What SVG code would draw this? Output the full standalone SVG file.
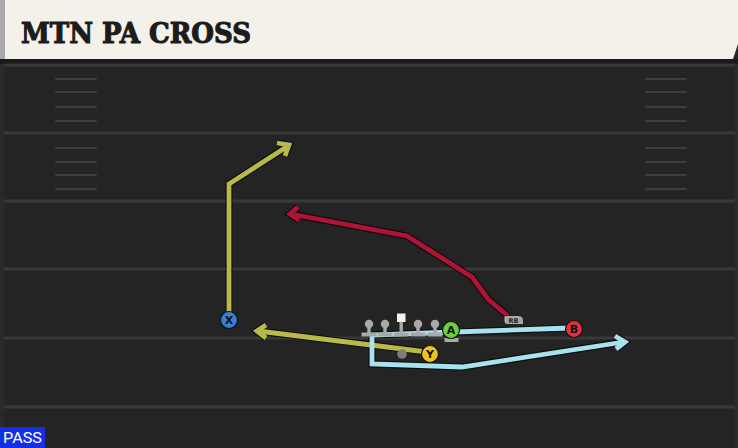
<svg xmlns="http://www.w3.org/2000/svg" width="738" height="448" viewBox="0 0 738 448">
<defs>
<style>
.yl{stroke:#393939;stroke-width:3;fill:none}
.hs{stroke:#3d3d3d;stroke-width:2;fill:none;stroke-linecap:round}
.edge{fill:none;stroke:#0d0d0d;stroke-width:7;stroke-linejoin:miter;stroke-linecap:butt}
.route{fill:none;stroke-width:4.8;stroke-linejoin:miter;stroke-linecap:butt}
.yel{stroke:#b9b84a}
.red{stroke:#ad1436}
.blu{stroke:#a6e2ef}
.ol{stroke:#111;stroke-width:1.2}
.lt{font-family:"DejaVu Sans","Liberation Sans",sans-serif;font-weight:bold;font-size:11px;fill:#111;text-anchor:middle}
.ln{fill:#a9a9a9}
</style>
</defs>
<rect x="0" y="0" width="738" height="448" fill="#242424"/>
<rect x="0" y="59" width="4" height="389" fill="#2a2a2a"/>
<rect x="735" y="59" width="3" height="389" fill="#2a2a2a"/>
<!-- header -->
<g id="header">
<rect x="0" y="0" width="6" height="59" fill="#a8a8a8"/>
<polygon points="5,0 738,0 738,44 733,59 5,59" fill="#f4f1ea"/>
<rect x="0" y="59" width="738" height="5" fill="#1a1a1a"/>
<text x="21" y="43" font-family="'DejaVu Serif','Liberation Serif',serif" font-weight="bold" font-size="28" fill="#1c1c1c" stroke="#1c1c1c" stroke-width="1.1" textLength="230" lengthAdjust="spacingAndGlyphs">MTN PA CROSS</text>
</g>
<!-- field -->
<g id="field">
<line class="yl" x1="4" y1="65" x2="735" y2="65"/>
<line class="yl" x1="4" y1="133" x2="735" y2="133"/>
<line class="yl" x1="4" y1="201" x2="735" y2="201"/>
<line class="yl" x1="4" y1="269" x2="735" y2="269"/>
<line class="yl" x1="4" y1="338" x2="735" y2="338"/>
<line class="yl" x1="4" y1="407" x2="735" y2="407"/>
<path class="hs" d="M56 79H96M56 92H96M56 107H96M56 121H96M56 148H96M56 162H96M56 175H96M56 189H96M646 79H686M646 92H686M646 107H686M646 121H686M646 148H686M646 162H686M646 175H686M646 189H686"/>
</g>
<!-- connectors -->
<g id="connectors">
<g class="edge">
<polyline points="229,320 229,184 288,146"/>
<polyline points="277,143 289,145 285,156"/>
<polyline points="427,352 258,331"/>
<polyline points="266,325 257,331 266,338"/>
<polyline points="508,316 488,299 472,277 407,236 291,214"/>
<polyline points="298,207 290,214 299,220"/>
<polyline points="570,328 455,332 372,335 372,364 462,367 624,342"/>
<polyline points="615,336 625,342 616,349"/>
</g>
<polyline class="route yel" points="229,320 229,184 288,146"/>
<polyline class="route yel" points="277,143 289,145 285,156"/>
<polyline class="route yel" points="427,352 258,331"/>
<polyline class="route yel" points="266,325 257,331 266,338"/>
<polyline class="route red" points="508,316 488,299 472,277 407,236 291,214"/>
<polyline class="route red" points="298,207 290,214 299,220"/>
<polyline class="route blu" points="570,328 455,332 372,335 372,364 462,367 624,342"/>
<polyline class="route blu" points="615,336 625,342 616,349"/>
</g>
<!-- linemen -->
<g id="lt"><circle class="ln" cx="369" cy="324" r="4.2"/><rect class="ln" x="367.3" y="325" width="3.4" height="9"/><rect class="ln" x="361.5" y="332.5" width="15" height="4"/></g>
<g id="lg"><circle class="ln" cx="385" cy="324" r="4.2"/><rect class="ln" x="383.3" y="325" width="3.4" height="9"/><rect class="ln" x="377.5" y="332.5" width="15" height="4"/></g>
<g id="c"><rect x="397" y="313.5" width="8.5" height="8.5" fill="#f2f2f2"/><rect class="ln" x="399.5" y="322" width="3.4" height="12"/><rect class="ln" x="393.7" y="332.5" width="15" height="4"/></g>
<g id="rg"><circle class="ln" cx="418" cy="324" r="4.2"/><rect class="ln" x="416.3" y="325" width="3.4" height="9"/><rect class="ln" x="410.5" y="332.5" width="15" height="4"/></g>
<g id="rt"><circle class="ln" cx="435" cy="324" r="4.2"/><rect class="ln" x="433.3" y="325" width="3.4" height="9"/><rect class="ln" x="427.5" y="332.5" width="15" height="4"/></g>
<g id="qb"><circle cx="402" cy="354" r="4.8" fill="#7d7d7d"/></g>
<g id="rb"><path d="M505 315.5 H518 Q523.5 315.5 523.5 321 V324.5 H507 Q504 324.5 504 321 V317 Z" fill="#a8a8a8" stroke="#111" stroke-width="0.8"/><text x="513.5" y="322.8" font-family="'DejaVu Sans',sans-serif" font-size="6.5" font-weight="bold" fill="#222" text-anchor="middle">RB</text></g>
<!-- skill players -->
<g id="x"><circle class="ol" cx="229" cy="320" r="8.5" fill="#3d7fd6"/><text class="lt" x="229" y="324">X</text></g>
<g id="a"><rect class="ln" x="449.5" y="335" width="3" height="5"/><rect class="ln" x="444.5" y="338" width="14" height="4"/><circle class="ol" cx="451" cy="330" r="8.5" fill="#6ccf3b"/><text class="lt" x="451" y="334">A</text></g>
<g id="b"><circle class="ol" cx="574" cy="329" r="8.5" fill="#e0303f"/><text class="lt" x="574" y="333">B</text></g>
<g id="y"><circle class="ol" cx="430" cy="354" r="8.5" fill="#f0c21f"/><text class="lt" x="430" y="358">Y</text></g>
<!-- pass tag -->
<g id="pass"><rect x="0" y="427" width="45" height="21" fill="#1430e6"/><text x="3" y="443" font-family="'Roboto','Liberation Sans',sans-serif" font-size="15" fill="#ffffff" textLength="39" lengthAdjust="spacingAndGlyphs">PASS</text></g>
</svg>
